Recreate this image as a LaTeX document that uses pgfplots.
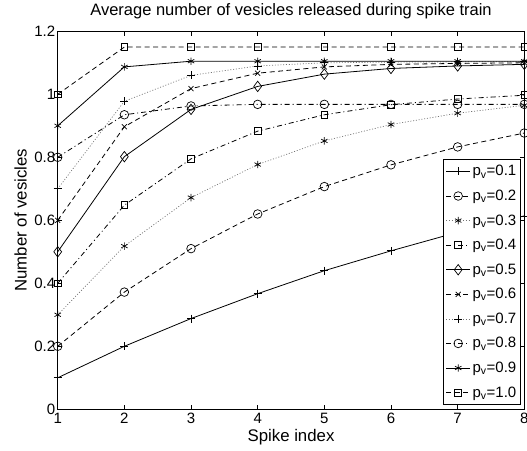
\documentclass[border=0pt]{standalone}
\usepackage{fontspec}
\setmainfont{Liberation Sans}
\usepackage{pgfplots}
\pgfplotsset{compat=1.18}
\begin{document}
\begin{tikzpicture}
\begin{axis}[
  scale only axis,
  width=466.6pt, height=378pt,
  xmin=1, xmax=8, ymin=0, ymax=1.2,
  xtick={1,2,3,4,5,6,7,8},
  ytick={0,0.2,0.4,0.6,0.8,1,1.2},
  yticklabels={0,0.2,0.4,0.6,0.8,1,1.2},
  /pgf/number format/assume math mode=true,
  tick label style={font=\fontsize{15}{17}\selectfont},
  yticklabel style={xshift=1pt},
  major tick length=4.5pt,
  tick style={black, line width=0.8pt},
  axis line style={black, line width=1pt},
  every axis title shift=0pt,
  title={Average number of vesicles released during spike train},
  title style={font=\fontsize{16.5}{19}\selectfont, at={(axis description cs:0.5,1.0405)}, anchor=base},
  xlabel={Spike index},
  ylabel={Number of vesicles},
  label style={font=\fontsize{16.8}{19}\selectfont},
  xlabel style={at={(axis description cs:0.5,-0.0857)}, anchor=base},
  ylabel style={at={(axis description cs:-0.0664,0.5)}, anchor=base},
  every axis plot/.append style={black, line width=0.8pt, mark options={solid, black, line width=0.7pt, fill=none}},
  mydashed/.style={dash pattern=on 5pt off 3.5pt},
  mydotted/.style={black!55, line width=0.7pt, dash pattern=on 1pt off 1.8pt},
  mydashdot/.style={dash pattern=on 5pt off 3pt on 1pt off 3pt},
  legend style={at={(axis description cs:1,0)}, anchor=south east, xshift=-3.6pt, yshift=4.3pt, draw=black, line width=0.8pt, font=\fontsize{15}{17}\selectfont, row sep=8.6pt, inner xsep=2pt, inner ysep=4pt},
  legend cell align=left,
  legend image code/.code={\draw[mark repeat=2,mark phase=2] plot coordinates {(0pt,0pt) (12pt,0pt) (24pt,0pt)};},
]
% p=0.1
\addplot[solid, mark=+, mark size=4pt] coordinates {(1,0.1) (2,0.2) (3,0.288) (4,0.367) (5,0.44) (6,0.503) (7,0.562) (8,0.614)};
% p=0.2
\addplot[mydashed, mark=o, mark size=4.3pt] coordinates {(1,0.2) (2,0.372) (3,0.51) (4,0.62) (5,0.707) (6,0.776) (7,0.833) (8,0.877)};
% p=0.3
\addplot[mydotted, mark=asterisk, mark size=3.7pt] coordinates {(1,0.3) (2,0.518) (3,0.672) (4,0.777) (5,0.852) (6,0.904) (7,0.94) (8,0.965)};
% p=0.4
\addplot[mydashdot, mark=square, mark size=3.4pt] coordinates {(1,0.4) (2,0.648) (3,0.795) (4,0.883) (5,0.935) (6,0.967) (7,0.985) (8,0.997)};
% p=0.5
\addplot[solid, mark=diamond, mark size=5.2pt] coordinates {(1,0.5) (2,0.802) (3,0.952) (4,1.025) (5,1.064) (6,1.082) (7,1.09) (8,1.095)};
% p=0.6
\addplot[mydashed, mark=x, mark size=3.5pt] coordinates {(1,0.6) (2,0.897) (3,1.018) (4,1.067) (5,1.087) (6,1.095) (7,1.098) (8,1.1)};
% p=0.7
\addplot[mydotted, mark=+, mark size=4pt] coordinates {(1,0.7) (2,0.978) (3,1.06) (4,1.09) (5,1.1) (6,1.102) (7,1.103) (8,1.103)};
% p=0.8
\addplot[mydashdot, mark=o, mark size=4.3pt] coordinates {(1,0.8) (2,0.935) (3,0.963) (4,0.968) (5,0.968) (6,0.968) (7,0.968) (8,0.968)};
% p=0.9
\addplot[solid, mark=asterisk, mark size=3.7pt] coordinates {(1,0.9) (2,1.087) (3,1.105) (4,1.105) (5,1.105) (6,1.105) (7,1.105) (8,1.105)};
% p=1.0
\addplot[mydashed, mark=square, mark size=3.4pt] coordinates {(1,1.0) (2,1.15) (3,1.15) (4,1.15) (5,1.15) (6,1.15) (7,1.15) (8,1.15)};
\legend{p\textsubscript{v}=0.1, p\textsubscript{v}=0.2, p\textsubscript{v}=0.3, p\textsubscript{v}=0.4, p\textsubscript{v}=0.5, p\textsubscript{v}=0.6, p\textsubscript{v}=0.7, p\textsubscript{v}=0.8, p\textsubscript{v}=0.9, p\textsubscript{v}=1.0}
\coordinate (BL) at (axis description cs:-0.1237,-0.1103);
\coordinate (TR) at (axis description cs:1.0058,1.0828);
\end{axis}
\pgfresetboundingbox
\path (BL) rectangle (TR);
\end{tikzpicture}
\end{document}
